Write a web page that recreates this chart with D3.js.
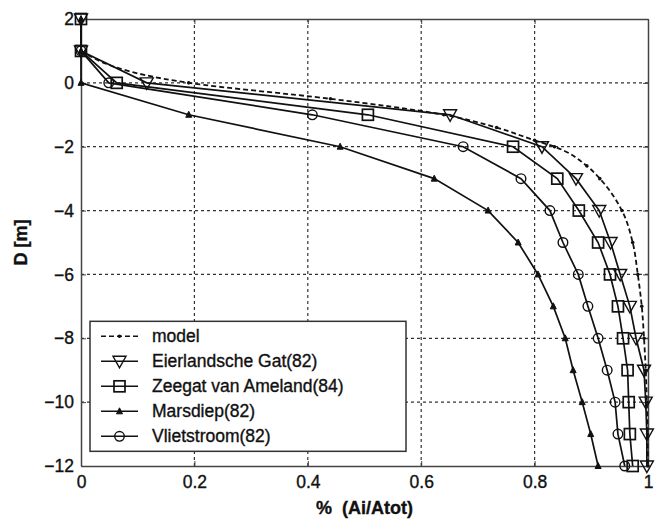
<!DOCTYPE html>
<html>
<head>
<meta charset="utf-8">
<script src="https://cdn.jsdelivr.net/npm/d3@7"></script>
<style>
  body { margin: 0; background: #fff; }
  text { font-family: "Liberation Sans", Arial, sans-serif; fill: #111; stroke: #111; stroke-width: 0.35px; }
</style>
</head>
<body>
<svg id="chart" width="655" height="519"></svg>
<script>
// depths (m) used by the measured series
var depths = [2, 1, 0, -1, -2, -3, -4, -5, -6, -7, -8, -9, -10, -11, -12]

var eierlandsche = [0, 0, 0.116, 0.651, 0.813, 0.873, 0.914, 0.934, 0.951, 0.968, 0.979, 0.993, 0.996, 0.998, 0.998]
var ameland = [0, 0, 0.063, 0.506, 0.762, 0.84, 0.878, 0.912, 0.933, 0.947, 0.956, 0.964, 0.966, 0.968, 0.973]
var marsdiep = [0, 0, 0, 0.19, 0.457, 0.623, 0.718, 0.771, 0.806, 0.833, 0.854, 0.868, 0.884, 0.899, 0.912]
var vlietstroom = [null, 0, 0.049, 0.408, 0.674, 0.776, 0.827, 0.85, 0.877, 0.894, 0.912, 0.928, 0.942, 0.947, 0.959]

var modelDepths = [1, 0, -0.5, -1, -1.4, -1.8, -2, -2.6, -3, -4, -5, -6, -7, -8, -9, -10, -11, -12]
var modelValues = [0, 0.19, 0.44, 0.64, 0.733, 0.80, 0.835, 0.892, 0.915, 0.954, 0.973, 0.982, 0.989, 0.993, 0.996, 0.998, 0.999, 1.0]

var xTicks = [0, 0.2, 0.4, 0.6, 0.8, 1]
var yTicks = [2, 0, -2, -4, -6, -8, -10, -12]

var seriesNames = ["model", "Eierlandsche Gat(82)", "Zeegat van Ameland(84)", "Marsdiep(82)", "Vlietstroom(82)"]

var svg = d3.select("#chart"),
	margin = { top: 19, right: 7, bottom: 53, left: 81 },
	width = 655 - margin.left - margin.right,
	height = 519 - margin.top - margin.bottom;

var x = d3.scaleLinear().domain([0, 1]).range([0, width]);
var y = d3.scaleLinear().domain([-12, 2]).range([height, 0]);

var g = svg.append("g")
	.attr("transform", "translate(" + margin.left + "," + margin.top + ")");

// grid
g.append("g").selectAll("line")
	.data(xTicks.slice(1, -1))
	.enter().append("line")
	.attr("x1", function (d) { return x(d) }).attr("x2", function (d) { return x(d) })
	.attr("y1", 0).attr("y2", height)
	.style("stroke", "#333").style("stroke-width", 1.2).style("stroke-dasharray", "3,3")

g.append("g").selectAll("line")
	.data(yTicks.slice(1, -1))
	.enter().append("line")
	.attr("y1", function (d) { return y(d) }).attr("y2", function (d) { return y(d) })
	.attr("x1", 0).attr("x2", width)
	.style("stroke", "#333").style("stroke-width", 1.2).style("stroke-dasharray", "3,3")

// axes
g.append("g")
	.attr("transform", "translate(0," + height + ")")
	.call(d3.axisBottom(x).tickValues(xTicks).tickFormat(d3.format("")).tickSizeInner(-5).tickSizeOuter(0).tickPadding(10))
g.append("g")
	.call(d3.axisLeft(y).tickValues(yTicks).tickSizeInner(-5).tickSizeOuter(0).tickPadding(7))
g.append("g")
	.attr("transform", "translate(" + width + ",0)")
	.call(d3.axisRight(y).tickValues(yTicks).tickFormat("").tickSizeInner(-5).tickSizeOuter(0))
g.append("g")
	.call(d3.axisTop(x).tickValues(xTicks).tickFormat("").tickSizeInner(-5).tickSizeOuter(0))

g.selectAll(".domain").style("stroke", "#444").style("stroke-width", 1.5)
g.selectAll(".tick line").style("stroke", "#444")
g.selectAll(".tick text").style("font-size", "17.5px").style("fill", "#111")

// labels
svg.append("text")
	.text("% (Ai/Atot)")
	.attr("x", margin.left + width / 2)
	.attr("y", 514)
	.attr("text-anchor", "middle")
	.style("font-weight", "bold")
	.style("font-size", "18px")
	.style("word-spacing", "5px")

svg.append("text")
	.text("D [m]")
	.attr("transform", "translate(27," + (margin.top + y(-5)) + ") rotate(-90)")
	.attr("text-anchor", "middle")
	.style("font-weight", "bold")
	.style("font-size", "18px")

// series
var line = d3.line()
	.defined(function (d) { return d[1] != null })
	.x(function (d) { return x(d[1]) })
	.y(function (d) { return y(d[0]) })

function pairs(ds, vs) {
	return ds.map(function (d, i) { return [d, vs[i]] })
}

var measured = [
	{ name: seriesNames[1], values: pairs(depths, eierlandsche), marker: "down" },
	{ name: seriesNames[2], values: pairs(depths, ameland), marker: "square" },
	{ name: seriesNames[3], values: pairs(depths, marsdiep), marker: "up" },
	{ name: seriesNames[4], values: pairs(depths, vlietstroom), marker: "circle" }
]

var plot = g.append("g")

plot.append("path")
	.datum(pairs(modelDepths, modelValues))
	.attr("d", line.curve(d3.curveMonotoneY))
	.style("fill", "none").style("stroke", "#111").style("stroke-width", 1.8).style("stroke-dasharray", "5,3")

line.curve(d3.curveLinear)

measured.forEach(function (s) {
	plot.append("path")
		.datum(s.values)
		.attr("d", line)
		.style("fill", "none").style("stroke", "#111").style("stroke-width", 1.7)
})

function drawMarker(sel, type, cx, cy) {
	if (type == "down") {
		sel.append("path")
			.attr("d", "M" + (cx - 6.5) + "," + (cy - 5) + "L" + (cx + 6.5) + "," + (cy - 5) + "L" + cx + "," + (cy + 6.5) + "Z")
			.style("fill", "none").style("stroke", "#111").style("stroke-width", 1.4)
	} else if (type == "square") {
		sel.append("rect")
			.attr("x", cx - 5.5).attr("y", cy - 5.5).attr("width", 11).attr("height", 11)
			.style("fill", "none").style("stroke", "#111").style("stroke-width", 1.7)
	} else if (type == "up") {
		sel.append("path")
			.attr("d", "M" + (cx - 3) + "," + (cy + 2.5) + "L" + (cx + 3) + "," + (cy + 2.5) + "L" + cx + "," + (cy - 3.5) + "Z")
			.style("fill", "#111").style("stroke", "#111").style("stroke-width", 1)
	} else if (type == "circle") {
		sel.append("circle")
			.attr("cx", cx).attr("cy", cy).attr("r", 4.8)
			.style("fill", "none").style("stroke", "#111").style("stroke-width", 1.4)
	} else if (type == "dot") {
		sel.append("circle")
			.attr("cx", cx).attr("cy", cy).attr("r", 1.8)
			.style("fill", "#111")
	}
}

measured.forEach(function (s) {
	var mg = plot.append("g")
	s.values.forEach(function (d) {
		if (d[1] == null) return
		drawMarker(mg, s.marker, x(d[1]), y(d[0]))
	})
})

var modelG = plot.append("g")
pairs(modelDepths, modelValues).forEach(function (d) {
	drawMarker(modelG, "dot", x(d[1]), y(d[0]))
})

// legend
var legend = g.append("g").attr("transform", "translate(9," + (y(-7.5) - 1) + ")")
legend.append("rect")
	.attr("width", 316).attr("height", 130)
	.style("fill", "#fff").style("stroke", "#333").style("stroke-width", 1.5)

var markers = ["dot", "down", "square", "up", "circle"]
seriesNames.forEach(function (name, i) {
	var ly = 15 + i * 25
	legend.append("line")
		.attr("x1", 11).attr("x2", 48).attr("y1", ly).attr("y2", ly)
		.style("stroke", "#111").style("stroke-width", 1.6)
		.style("stroke-dasharray", i == 0 ? "5,3" : null)
	drawMarker(legend, markers[i], 29.5, ly)
	legend.append("text")
		.text(name)
		.attr("x", 62).attr("y", ly + 6)
		.style("font-size", "17.5px")
})
</script>
</body>
</html>
